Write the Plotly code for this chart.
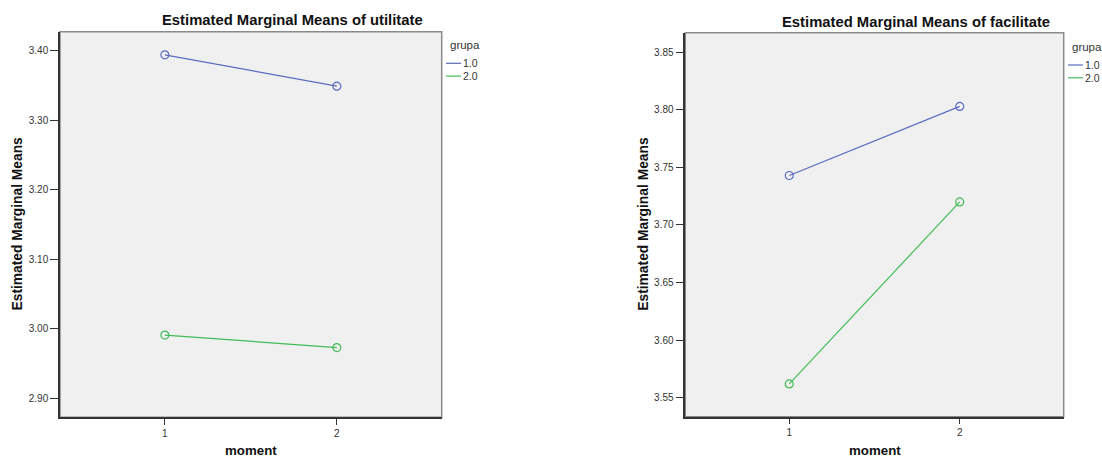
import plotly.graph_objects as go

# ---------------- data ----------------
moments = [1, 2]
groups = ["1.0", "2.0"]
utilitate_g1 = [3.394, 3.349]
utilitate_g2 = [2.991, 2.973]
facilitate_g1 = [3.743, 3.803]
facilitate_g2 = [3.562, 3.720]
util_ticks = [2.90, 3.00, 3.10, 3.20, 3.30, 3.40]
facil_ticks = [3.55, 3.60, 3.65, 3.70, 3.75, 3.80, 3.85]
titles = ["Estimated Marginal Means of utilitate", "Estimated Marginal Means of facilitate"]
y_title = "Estimated Marginal Means"
x_title = "moment"
legend_title = "grupa"

W, H = 1102, 458
colors = ["#5a6cc0", "#42bc58"]
FONT = "Arial, Liberation Sans, sans-serif"


def px(x):
    return x / W


def py(y):
    return 1 - y / H


fig = go.Figure()

panels = [
    dict(xa="x", ya="y", vals=[utilitate_g1, utilitate_g2], ticks=util_ticks,
         xd=[px(60), px(441.7)], yd=[py(417.3), py(31.7)], yr=[2.8727, 3.4273],
         title_x=292.8, title_y=19.5, ytx=16.5, xty=450.8,
         leg_x=446, leg_y=45),
    dict(xa="x2", ya="y2", vals=[facilitate_g1, facilitate_g2], ticks=facil_ticks,
         xd=[px(685.3), px(1063.7)], yd=[py(416.7), py(32.7)], yr=[3.5335, 3.867],
         title_x=916, title_y=21.5, ytx=642.7, xty=450.3,
         leg_x=1068, leg_y=46.7),
]

annotations = []
shapes = []
for i, p in enumerate(panels):
    for g, (vals, col) in enumerate(zip(p["vals"], colors)):
        fig.add_trace(go.Scatter(
            x=moments, y=vals, xaxis=p["xa"], yaxis=p["ya"],
            mode="lines+markers", showlegend=False,
            line=dict(color=col, width=1.2),
            marker=dict(symbol="circle-open", size=8, color=col, line=dict(width=1.2)),
            name=groups[g], hoverinfo="skip"))
    sfx = "" if i == 0 else "2"
    fig.update_layout(**{
        "xaxis" + sfx: dict(domain=p["xd"], range=[0.39, 2.61], tickvals=moments,
                            ticktext=[str(m) for m in moments], ticks="outside", ticklen=6,
                            tickcolor="#333", tickwidth=1, showgrid=False, zeroline=False,
                            showline=True, linecolor="#333", linewidth=1.5,
                            tickfont=dict(family=FONT, size=10, color="#333"),
                            anchor="y" + sfx, fixedrange=True),
        "yaxis" + sfx: dict(domain=p["yd"], range=p["yr"], tickvals=p["ticks"],
                            ticktext=["%.2f" % t for t in p["ticks"]], ticks="outside", ticklen=8,
                            tickcolor="#333", tickwidth=1, showgrid=False, zeroline=False,
                            showline=True, linecolor="#333", linewidth=1.5,
                            tickfont=dict(family=FONT, size=10, color="#333"),
                            anchor="x" + sfx, fixedrange=True),
    })
    # gray top/right frame
    shapes.append(dict(type="rect", xref=p["xa"] + " domain", yref=p["ya"] + " domain",
                       x0=0, x1=1, y0=0, y1=1, line=dict(color="#8a8a8a", width=1.5),
                       fillcolor="#f0f0f0", layer="below"))
    # titles
    annotations.append(dict(text="<b>" + titles[i] + "</b>", x=px(p["title_x"]), y=py(p["title_y"]),
                            xref="paper", yref="paper", xanchor="center", yanchor="middle",
                            showarrow=False, font=dict(family=FONT, size=14.8, color="#111")))
    annotations.append(dict(text="<b>" + y_title + "</b>", x=px(p["ytx"]), y=py(224),
                            xref="paper", yref="paper", xanchor="center", yanchor="middle",
                            textangle=-90, showarrow=False,
                            font=dict(family=FONT, size=13.8, color="#111")))
    xc = (p["xd"][0] + p["xd"][1]) / 2
    annotations.append(dict(text="<b>" + x_title + "</b>", x=xc, y=py(p["xty"]),
                            xref="paper", yref="paper", xanchor="center", yanchor="middle",
                            showarrow=False, font=dict(family=FONT, size=13.3, color="#111")))
    # legend
    lx, ly = p["leg_x"], p["leg_y"]
    annotations.append(dict(text=legend_title, x=px(lx + 2), y=py(ly), xref="paper", yref="paper",
                            xanchor="left", yanchor="middle", showarrow=False,
                            font=dict(family=FONT, size=11.5, color="#333")))
    for g, col in enumerate(colors):
        yy = ly + 18.3 + 12.8 * g
        shapes.append(dict(type="line", xref="paper", yref="paper", x0=px(lx), x1=px(lx + 15),
                           y0=py(yy), y1=py(yy), line=dict(color=col, width=1.2)))
        annotations.append(dict(text=groups[g], x=px(lx + 14.5), y=py(yy), xref="paper", yref="paper",
                                xanchor="left", yanchor="middle", showarrow=False,
                                font=dict(family=FONT, size=10.5, color="#333")))

fig.update_layout(width=W, height=H, margin=dict(l=0, r=0, t=0, b=0),
                  paper_bgcolor="white", plot_bgcolor="rgba(0,0,0,0)",
                  annotations=annotations, shapes=shapes, showlegend=False)

fig.write_html("out.html", config={"displayModeBar": False},
               post_script="document.body.style.margin='0';document.body.style.overflow='hidden';")
